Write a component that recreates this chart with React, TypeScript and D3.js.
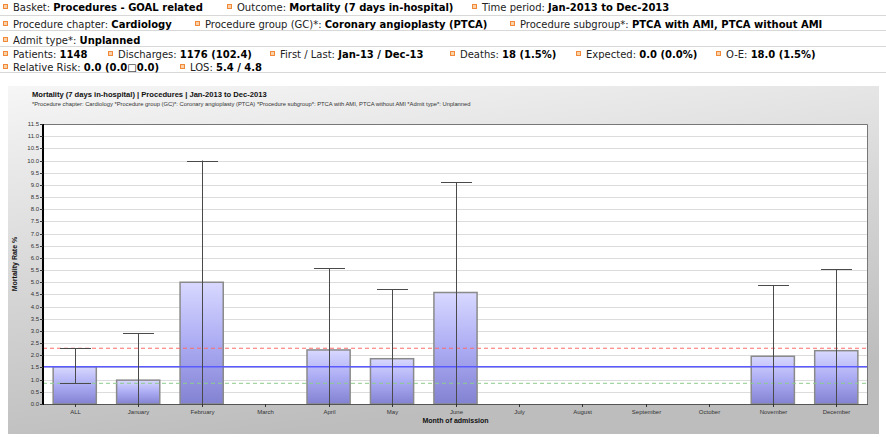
import { scaleBand, scaleLinear, range } from "d3";

const categories = [
  "ALL", "January", "February", "March", "April", "May", "June",
  "July", "August", "September", "October", "November", "December",
];
// mortality rate % per month (null = no deaths / no bar)
const rates: (number | null)[] = [1.53, 0.98, 5.0, null, 2.22, 1.86, 4.58, null, null, null, null, 1.96, 2.19];
const upperCI: (number | null)[] = [2.29, 2.9, 10.0, null, 5.57, 4.71, 9.1, null, null, null, null, 4.89, 5.54];
const lowerCI: (number | null)[] = [0.85, 0, 0, null, 0, 0, 0, null, null, null, null, 0, 0];

const overallRate = 1.53;
const overallUpper = 2.29;
const overallLower = 0.85;

const yTicks = range(0, 11.51, 0.5);

const headerRows: [string, string][][] = [
  [["Basket:", "Procedures - GOAL related"], ["Outcome:", "Mortality (7 days in-hospital)"], ["Time period:", "Jan-2013 to Dec-2013"]],
  [["Procedure chapter:", "Cardiology"], ["Procedure group (GC)*:", "Coronary angioplasty (PTCA)"], ["Procedure subgroup*:", "PTCA with AMI, PTCA without AMI"]],
  [["Admit type*:", "Unplanned"]],
  [["Patients:", "1148"], ["Discharges:", "1176 (102.4)"], ["First / Last:", "Jan-13 / Dec-13"], ["Deaths:", "18 (1.5%)"], ["Expected:", "0.0 (0.0%)"], ["O-E:", "18.0 (1.5%)"]],
  [["Relative Risk:", "0.0 (0.0\u25A10.0)"], ["LOS:", "5.4 / 4.8"]],
];
const headerX = [
  [3, 227, 472],
  [3, 195, 510],
  [3],
  [3, 108, 270, 450, 576, 716],
  [3, 180],
];
const headerY = [11, 28, 44, 58, 71];
const headerLines = [15, 30, 46, 72];

const chartTitle = "Mortality (7 days in-hospital) | Procedures | Jan-2013 to Dec-2013";
const chartSubtitle =
  "*Procedure chapter: Cardiology  *Procedure group (GC)*: Coronary angioplasty (PTCA)  *Procedure subgroup*: PTCA with AMI, PTCA without AMI  *Admit type*: Unplanned";

export default function App() {
  const W = 886;
  const H = 437;
  const plot = { left: 43, right: 868, top: 124, bottom: 404 };

  const x = scaleBand<string>()
    .domain(categories)
    .range([plot.left, plot.right])
    .paddingInner(0.32)
    .paddingOuter(0.16);
  const y = scaleLinear().domain([0, 11.5]).range([plot.bottom, plot.top]);
  const capW = 31;
  const font = "Verdana, 'DejaVu Sans', sans-serif";
  const small = "'Liberation Sans', Arial, sans-serif";

  return (
    <svg width={W} height={H} style={{ position: "absolute", left: 0, top: 0, background: "#fff" }}>
      <defs>
        <linearGradient id="panelBg" x1="0" y1="0" x2="0.3" y2="1">
          <stop offset="0" stopColor="#f6f6f6" />
          <stop offset="0.5" stopColor="#d8d8d8" />
          <stop offset="1" stopColor="#bdbdbd" />
        </linearGradient>
        <linearGradient id="barFill" x1="0" y1="0" x2="0" y2="1">
          <stop offset="0" stopColor="#d8d8ff" />
          <stop offset="0.5" stopColor="#acacf4" />
          <stop offset="1" stopColor="#8282d2" />
        </linearGradient>
      </defs>

      {/* header */}
      {headerLines.map((ly) => (
        <line key={ly} x1={0} x2={W} y1={ly + 0.5} y2={ly + 0.5} stroke="#d8d8d8" />
      ))}
      {headerRows.map((row, ri) =>
        row.map(([label, value], ci) => {
          const hx = headerX[ri][ci];
          const hy = headerY[ri];
          return (
            <g key={`${ri}-${ci}`}>
              <rect x={hx + 0.5} y={hy - 6.5} width={4} height={4} fill="#fbd2a8" stroke="#f08a3a" strokeWidth={1} />
              <text x={hx + 10} y={hy} fontFamily={font} fontSize={10} fill="#000">
                <tspan fill="#222">{label} </tspan>
                <tspan fontWeight="bold">{value}</tspan>
              </text>
            </g>
          );
        })
      )}

      {/* chart panel */}
      <rect x={8} y={86} width={871} height={348} fill="url(#panelBg)" />
      <text x={32} y={97} fontFamily={small} fontSize={7.6} fontWeight="bold" fill="#111">
        {chartTitle}
      </text>
      <text x={32} y={106} fontFamily={small} fontSize={5.8} fill="#333">
        {chartSubtitle}
      </text>

      <rect x={plot.left} y={plot.top} width={plot.right - plot.left} height={plot.bottom - plot.top} fill="#fff" />

      {/* grid */}
      {yTicks.map((t) => (
        <line key={t} x1={plot.left} x2={plot.right} y1={Math.round(y(t)) + 0.5} y2={Math.round(y(t)) + 0.5} stroke="#dcdcdc" />
      ))}

      {/* bars */}
      {categories.map((c, i) => {
        const v = rates[i];
        if (v == null) return null;
        const bx = x(c)!;
        return (
          <rect key={c} x={bx} y={y(v)} width={x.bandwidth()} height={y(0) - y(v)} fill="url(#barFill)" stroke="#8a8a8a" strokeWidth={1.5} />
        );
      })}

      {/* reference lines */}
      <line x1={plot.left} x2={plot.right} y1={y(overallUpper)} y2={y(overallUpper)} stroke="#ff6a6a" strokeDasharray="4,3" />
      <line x1={plot.left} x2={plot.right} y1={y(overallLower)} y2={y(overallLower)} stroke="#8ccc8c" strokeDasharray="4,3" />
      <line x1={plot.left} x2={plot.right} y1={y(overallRate)} y2={y(overallRate)} stroke="#5a5aff" strokeWidth={1.3} />

      {/* error bars */}
      {categories.map((c, i) => {
        const hi = upperCI[i];
        const lo = lowerCI[i];
        if (hi == null || lo == null) return null;
        const cx = Math.round(x(c)! + x.bandwidth() / 2) + 0.5;
        return (
          <g key={c} stroke="#4a4a4a" strokeWidth={1}>
            <line x1={cx} x2={cx} y1={y(hi)} y2={y(lo)} />
            <line x1={cx - capW / 2} x2={cx + capW / 2} y1={Math.round(y(hi)) + 0.5} y2={Math.round(y(hi)) + 0.5} />
            {lo > 0 && <line x1={cx - capW / 2} x2={cx + capW / 2} y1={Math.round(y(lo)) + 0.5} y2={Math.round(y(lo)) + 0.5} />}
          </g>
        );
      })}

      {/* frame */}
      <path d={`M${plot.left},${plot.top + 0.5}H${plot.right - 0.5}V${plot.bottom}`} fill="none" stroke="#777" />
      <line x1={plot.left} x2={plot.right} y1={plot.bottom + 0.5} y2={plot.bottom + 0.5} stroke="#555" />
      <line x1={plot.left} x2={plot.left} y1={plot.top} y2={plot.bottom + 1} stroke="#000" strokeWidth={2} />

      {/* y axis */}
      {yTicks.map((t) => (
        <g key={t}>
          <line x1={plot.left - 3} x2={plot.left} y1={Math.round(y(t)) + 0.5} y2={Math.round(y(t)) + 0.5} stroke="#333" />
          <text x={plot.left - 4} y={y(t) + 2} textAnchor="end" fontFamily={small} fontSize={6} fill="#333">
            {t.toFixed(1)}
          </text>
        </g>
      ))}
      <text
        transform={`translate(17,${(plot.top + plot.bottom) / 2}) rotate(-90)`}
        textAnchor="middle"
        fontFamily={small}
        fontSize={7}
        fontWeight="bold"
        fill="#111"
      >
        Mortality Rate %
      </text>

      {/* x axis */}
      {categories.map((c) => {
        const cx = Math.round(x(c)! + x.bandwidth() / 2) + 0.5;
        return (
          <g key={c}>
            <line x1={cx} x2={cx} y1={plot.bottom} y2={plot.bottom + 3} stroke="#333" />
            <text x={cx} y={plot.bottom + 10} textAnchor="middle" fontFamily={small} fontSize={6} fill="#333">
              {c}
            </text>
          </g>
        );
      })}
      <text x={(plot.left + plot.right) / 2} y={plot.bottom + 19} textAnchor="middle" fontFamily={small} fontSize={7} fontWeight="bold" fill="#111">
        Month of admission
      </text>
    </svg>
  );
}
